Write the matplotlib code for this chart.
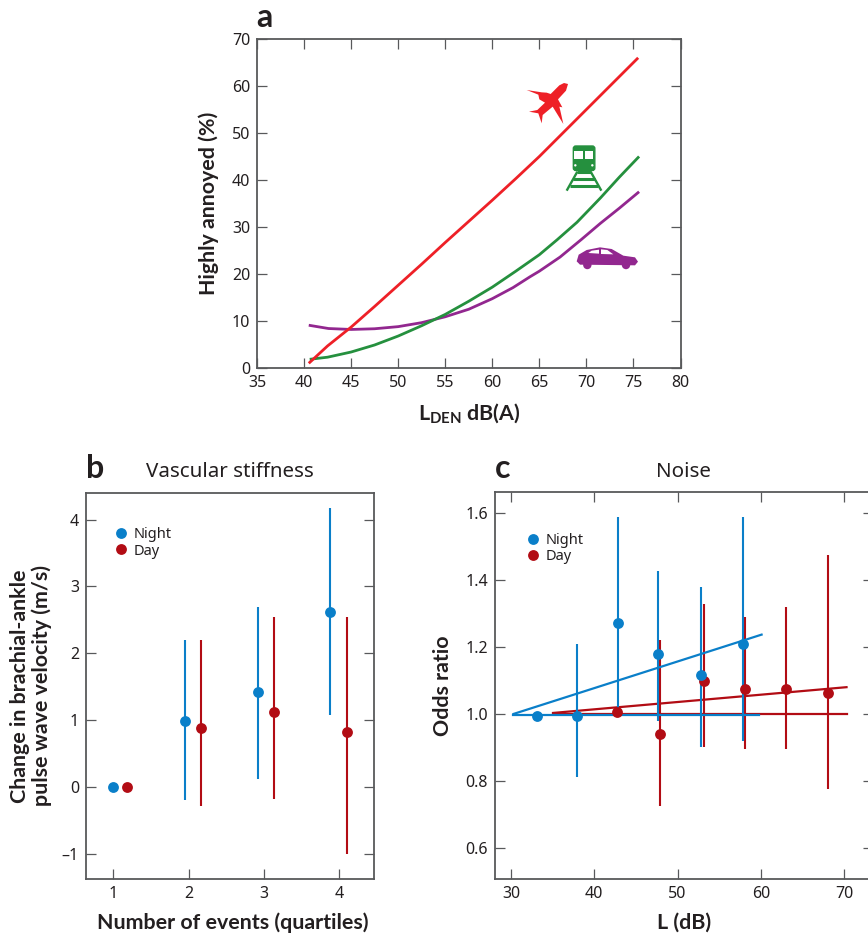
import matplotlib
matplotlib.use('Agg')
import matplotlib.pyplot as plt
import numpy as np
from matplotlib.patches import Polygon, Circle, FancyBboxPatch, Rectangle

plt.rcParams['font.family'] = ['Noto Sans', 'DejaVu Sans']
plt.rcParams['mathtext.fontset'] = 'custom'
plt.rcParams['mathtext.bf'] = 'Lato:bold'
plt.rcParams['mathtext.rm'] = 'Lato'

W, H = 868, 934
INK = '#231f20'
FRAME = '#58595b'
BLUE = '#0a7fc9'
RED = '#b20c14'
BOLD = {'family': ['Lato', 'DejaVu Sans'], 'fontweight': 'bold', 'color': INK}
LABEL_SIZE = 15.4

# panel a, curves
plane_x = [40.5, 42.5, 45, 47.5, 50, 52.5, 55, 57.5, 60, 62.5, 65, 67.5, 70, 72.5, 75.5]
plane_y = [1.0, 4.7, 8.7, 13.1, 17.6, 22.1, 26.7, 31.2, 35.7, 40.3, 45.0, 50.0, 55.0, 60.0, 66.0]
train_x = [40.6, 42.5, 45, 47.5, 50, 52.5, 55, 57.5, 60, 62.5, 65, 66.9, 69, 71.5, 73.5, 75.6]
train_y = [1.85, 2.3, 3.4, 4.9, 6.8, 9.0, 11.4, 14.2, 17.2, 20.6, 24.1, 27.3, 31.0, 36.2, 40.6, 45.0]
car_x = [40.5, 42.6, 45, 47.5, 50, 52.5, 55, 57.5, 60, 62.2, 64, 65, 67.2, 69.5, 71.5, 73.5, 75.6]
car_y = [9.1, 8.4, 8.2, 8.35, 8.8, 9.65, 10.9, 12.5, 14.75, 17.1, 19.4, 20.6, 23.6, 27.4, 30.8, 34.0, 37.5]

# panel b, vascular stiffness
b_night_x = [1, 1.95, 2.92, 3.88]
b_night_y = [0, 0.98, 1.42, 2.62]
b_night_lo = [np.nan, -0.2, 0.12, 1.07]
b_night_hi = [np.nan, 2.2, 2.7, 4.18]
b_day_x = [1.18, 2.16, 3.13, 4.1]
b_day_y = [0, 0.88, 1.12, 0.82]
b_day_lo = [np.nan, -0.28, -0.18, -1.0]
b_day_hi = [np.nan, 2.2, 2.55, 2.55]

# panel c, noise
c_night_x = [33.09, 37.93, 42.82, 47.66, 52.82, 57.87]
c_night_y = [0.995, 0.995, 1.272, 1.179, 1.116, 1.209]
c_night_lo = [np.nan, 0.812, 1.0, 0.98, 0.90, 0.92]
c_night_hi = [np.nan, 1.209, 1.588, 1.427, 1.38, 1.588]
c_day_x = [42.73, 47.93, 53.15, 58.07, 63.03, 68.11]
c_day_y = [1.006, 0.941, 1.098, 1.076, 1.076, 1.063]
c_day_lo = [np.nan, 0.725, 0.90, 0.896, 0.896, 0.776]
c_day_hi = [np.nan, 1.221, 1.327, 1.29, 1.32, 1.474]
c_night_fit_x = [30.3, 60.1]
c_night_fit_y = [1.0, 1.237]
c_night_base_x = [30.3, 59.75]
c_night_base_y = [0.996, 0.996]
c_day_fit_x = [35.05, 70.3]
c_day_fit_y = [1.003, 1.08]
c_day_base_x = [35.05, 70.3]
c_day_base_y = [1.0, 1.0]


def make_axes(left, top, right, bottom):
    return fig.add_axes([left / W, 1 - bottom / H, (right - left) / W, (bottom - top) / H])


def style(ax, top_ticks=True):
    for s in ax.spines.values():
        s.set_color(FRAME)
        s.set_linewidth(1.3)
    ax.tick_params(direction='in', length=7, width=0.9, color=FRAME, labelcolor=INK,
                   labelsize=11.5, right=True, top=top_ticks, pad=5)


def error_series(ax, x, y, lo, hi, color, z):
    x, y, lo, hi = map(np.array, (x, y, lo, hi))
    ax.vlines(x, lo, hi, color=color, lw=1.5, zorder=z)
    ax.plot(x, y, 'o', color=color, ms=7.8, mew=0, zorder=z + 2, clip_on=False)


def dot_legend(ax, ox, oy):
    ax.plot([], [], 'o', color=BLUE, ms=7.8, mew=0, label='Night')
    ax.plot([], [], 'o', color=RED, ms=7.8, mew=0, label='Day')
    ax.legend(loc='upper left', bbox_to_anchor=(ox, oy), frameon=False, fontsize=10.5,
              handlelength=1, handletextpad=0.39, labelspacing=0.12, borderpad=0,
              borderaxespad=0, labelcolor=INK)


fig = plt.figure(figsize=(W / 100, H / 100), dpi=100)

# a
ax_a = make_axes(257, 39, 680.5, 368)
ax_a.plot(car_x, car_y, color='#92278f', lw=2.0, solid_capstyle='butt')
ax_a.plot(train_x, train_y, color='#25903e', lw=2.0, solid_capstyle='butt')
ax_a.plot(plane_x, plane_y, color='#ee2027', lw=2.0, solid_capstyle='butt')
ax_a.set_xlim(35, 80)
ax_a.set_ylim(0, 70)
ax_a.set_xticks(range(35, 81, 5))
ax_a.set_yticks(range(0, 71, 10))
style(ax_a)
ax_a.set_xlabel(r'$\mathbf{L_{DEN}}$ dB(A)', fontsize=LABEL_SIZE, **BOLD)
ax_a.set_ylabel('Highly annoyed (%)', fontsize=LABEL_SIZE, **BOLD)
ax_a.xaxis.set_label_coords(0.5, -0.1)
ax_a.yaxis.set_label_coords(-0.09, 0.5)

# b
ax_b = make_axes(86, 493, 374, 879)
error_series(ax_b, b_day_x, b_day_y, b_day_lo, b_day_hi, RED, 2)
error_series(ax_b, b_night_x, b_night_y, b_night_lo, b_night_hi, BLUE, 3)
ax_b.set_xlim(0.635, 4.46)
ax_b.set_ylim(-1.38, 4.4)
ax_b.set_xticks([1, 2, 3, 4])
ax_b.set_yticks([-1, 0, 1, 2, 3, 4])
ax_b.set_yticklabels(['\u20131', '0', '1', '2', '3', '4'])
style(ax_b, top_ticks=False)
ax_b.set_xlabel('Number of events (quartiles)', fontsize=LABEL_SIZE, **BOLD)
ax_b.set_ylabel('Change in brachial-ankle\npulse wave velocity (m/s)', fontsize=LABEL_SIZE,
                linespacing=1.11, **BOLD)
ax_b.xaxis.set_label_coords(0.51, -0.087)
ax_b.yaxis.set_label_coords(-0.118, 0.5)
dot_legend(ax_b, 0.096, 0.9125)

# c
ax_c = make_axes(495, 492, 873, 879)
ax_c.plot(c_day_base_x, c_day_base_y, color=RED, lw=1.6, zorder=1)
ax_c.plot(c_day_fit_x, c_day_fit_y, color=RED, lw=1.6, zorder=1)
error_series(ax_c, c_day_x, c_day_y, c_day_lo, c_day_hi, RED, 2)
ax_c.plot(c_night_base_x, c_night_base_y, color=BLUE, lw=1.6, zorder=3)
ax_c.plot(c_night_fit_x, c_night_fit_y, color=BLUE, lw=1.6, zorder=3)
error_series(ax_c, c_night_x, c_night_y, c_night_lo, c_night_hi, BLUE, 3)
ax_c.set_xlim(28.08, 73.48)
ax_c.set_ylim(0.507, 1.663)
ax_c.set_xticks([30, 40, 50, 60, 70])
ax_c.set_yticks([0.6, 0.8, 1.0, 1.2, 1.4, 1.6])
style(ax_c)
ax_c.spines['right'].set_visible(False)
ax_c.set_xlabel('L (dB)', fontsize=LABEL_SIZE, **BOLD)
ax_c.set_ylabel('Odds ratio', fontsize=LABEL_SIZE, **BOLD)
ax_c.xaxis.set_label_coords(0.5, -0.087)
ax_c.yaxis.set_label_coords(-0.111, 0.5)
dot_legend(ax_c, 0.081, 0.895)

# overlay in picture pixels, panel letters, titles and icons
ov = fig.add_axes([0, 0, 1, 1], zorder=10)
ov.set_xlim(0, W)
ov.set_ylim(H, 0)
ov.axis('off')
ov.patch.set_alpha(0)
ov.text(256, 27, 'a', fontsize=23, **BOLD)
ov.text(86, 478, 'b', fontsize=23, **BOLD)
ov.text(495, 478, 'c', fontsize=23, **BOLD)
ov.text(230, 477, 'Vascular stiffness', fontsize=14.8, color=INK, ha='center')
ov.text(683, 477, 'Noise', fontsize=14.8, color=INK, ha='center')


def z(pts):
    # from the zoomed crop of the icons to picture pixels
    return [(500 + p[0] / 3, 60 + p[1] / 3) for p in pts]


red_icon = '#ee2027'
green_icon = '#25903e'
purple_icon = '#92278f'

ov.add_patch(Polygon(z([(204, 72), (198, 92), (174, 118), (187, 142), (178, 140), (181, 152),
                        (190, 192), (158, 140), (128, 165), (125, 190), (115, 160), (87, 155),
                        (112, 150), (135, 128), (118, 118), (115, 104), (80, 90), (125, 97),
                        (140, 98), (152, 102), (178, 76), (192, 69)]), color=red_icon, lw=0))

(tx, ty), = z([(217, 255)])
ov.add_patch(FancyBboxPatch((tx + 1, ty + 1), 21.5, 24.5, boxstyle='round,pad=0,rounding_size=2.5',
                            fc=green_icon, ec=green_icon, lw=1))
for wx in (223, 255):
    (px, py), = z([(wx, 272)])
    ov.add_patch(Rectangle((px, py), 8.3, 8.3, color='white', lw=0))
for lx in (226, 277):
    (px, py), = z([(lx, 316)])
    ov.add_patch(Circle((px, py), 1.2, color='white', lw=0))
for a, b in [((232, 335), (200, 392)), ((272, 335), (304, 392))]:
    (x0, y0), (x1, y1) = z([a, b])
    ov.plot([x0, x1], [y0, y1], color=green_icon, lw=1.7, solid_capstyle='butt')
for tie, half in [(337, 22), (356, 32), (377, 42)]:
    (x0, y0), (x1, y1) = z([(252 - half, tie), (252 + half, tie)])
    ov.plot([x0, x1], [y0, y1], color=green_icon, lw=2.2, solid_capstyle='butt')

ov.add_patch(Polygon(z([(230, 604), (236, 584), (260, 570), (300, 562), (335, 567), (370, 587),
                        (405, 592), (414, 605), (405, 616), (240, 614)]), color=purple_icon, lw=0))
for cx in (262, 378):
    (px, py), = z([(cx, 615)])
    ov.add_patch(Circle((px, py), 4.2, color=purple_icon, lw=0))
ov.add_patch(Polygon(z([(265, 579), (275, 572), (297, 569), (297, 581)]), color='white', lw=0))
ov.add_patch(Polygon(z([(303, 568), (322, 570), (340, 583), (303, 582)]), color='white', lw=0))

fig.savefig('out.png', dpi=100)
